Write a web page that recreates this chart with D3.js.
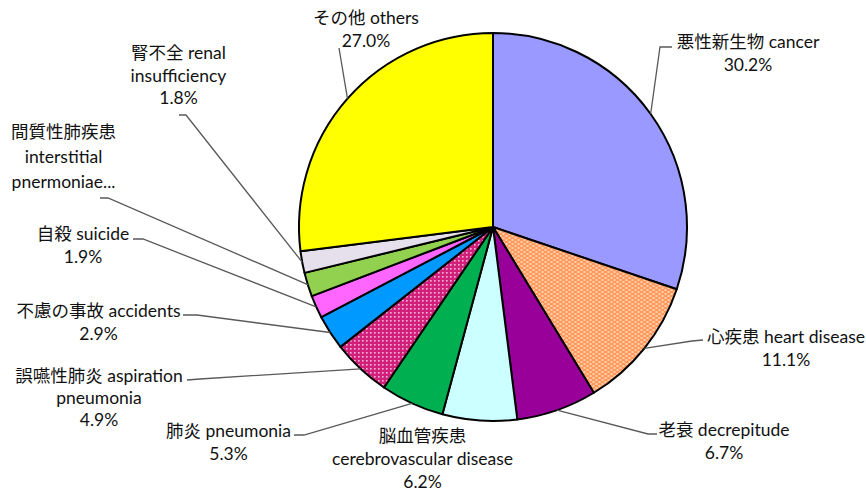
<!DOCTYPE html>
<html><head><meta charset="utf-8">
<script src="https://cdn.jsdelivr.net/npm/d3@7"></script>
<style>
body{margin:0;background:#fff;}
text{font-family:"Lato","Noto Sans CJK JP",sans-serif;font-size:17.5px;fill:#111;}
</style></head>
<body><svg id="c" width="866" height="493"></svg>
<script>
const categoriesJa = ["悪性新生物","心疾患","老衰","脳血管疾患","肺炎","誤嚥性肺炎","不慮の事故","自殺","間質性肺疾患","腎不全","その他"];
const categoriesEn = ["cancer","heart disease","decrepitude","cerebrovascular disease","pneumonia","aspiration pneumonia","accidents","suicide","interstitial pnermoniae","renal insufficiency","others"];
const values = [30.2,11.1,6.7,6.2,5.3,4.9,2.9,1.9,2.0,1.8,27.0];
const colors = ["#9999FF","url(#patHeart)","#990099","#CCFFFF","#00B050","url(#patAsp)","#0099FF","#FF66FF","#92D050","#E6E0EC","#FFFF00"];

const layout = [
  {lines:["悪性新生物 cancer","30.2%"], x:748, y:48, dy:22.5, lead:[[672,47],[660,47]]},
  {lines:["心疾患 heart disease","11.1%"], x:786, y:343, dy:22.5, lead:[[703,340],[692,341]]},
  {lines:["老衰 decrepitude","6.7%"], x:724, y:436, dy:22.5, lead:[[657,434],[648,434]]},
  {lines:["脳血管疾患","cerebrovascular disease","6.2%"], x:422.5, y:442, dy:23, lead:null},
  {lines:["肺炎 pneumonia","5.3%"], x:228.5, y:437, dy:22.5, lead:[[294,435],[304,435]]},
  {lines:["誤嚥性肺炎 aspiration","pneumonia","4.9%"], x:99, y:382, dy:22, lead:[[187,380],[200,379]]},
  {lines:["不慮の事故 accidents","2.9%"], x:98.5, y:317, dy:22.5, lead:[[183,315],[197,315]]},
  {lines:["自殺 suicide","1.9%"], x:83, y:240, dy:22.5, lead:[[133,239],[143,239]]},
  {lines:["間質性肺疾患","interstitial","pnermoniae..."], x:63.5, y:138, dy:25, lead:[[100,198],[108,198]]},
  {lines:["腎不全 renal","insufficiency","1.8%"], x:178.5, y:59, dy:22.5, lead:[[179,115],[186,115]]},
  {lines:["その他 others","27.0%"], x:366, y:24, dy:23, lead:[[339,48],[339,48]]}
];

const svg = d3.select("#c");
const defs = svg.append("defs");
const ph = defs.append("pattern").attr("id","patHeart").attr("patternUnits","userSpaceOnUse").attr("width",6).attr("height",4);
ph.append("rect").attr("width",6).attr("height",4).attr("fill","#FF9A5C");
ph.append("ellipse").attr("cx",1.5).attr("cy",1).attr("rx",1.4).attr("ry",0.7).attr("fill","#FFE3CC");
ph.append("ellipse").attr("cx",4.5).attr("cy",3).attr("rx",1.4).attr("ry",0.7).attr("fill","#FFE3CC");
const pa = defs.append("pattern").attr("id","patAsp").attr("patternUnits","userSpaceOnUse").attr("width",4).attr("height",4);
pa.append("rect").attr("width",4).attr("height",4).attr("fill","#D0207A");
pa.append("rect").attr("x",1).attr("y",1).attr("width",1.6).attr("height",1.6).attr("fill","#F5B8D8");

const cx = 493, cy = 227, R = 194;
const pie = d3.pie().sort(null).value(d=>d);
const arcs = pie(values);
const arc = d3.arc().innerRadius(0).outerRadius(R);
const g = svg.append("g").attr("transform",`translate(${cx},${cy})`);
g.selectAll("path").data(arcs).join("path")
  .attr("d",arc).attr("fill",(d,i)=>colors[i])
  .attr("stroke","#000").attr("stroke-width",2).attr("stroke-linejoin","round");

const lineGen = d3.line();
arcs.forEach((d,i)=>{
  const L = layout[i];
  if(!L.lead) return;
  const a = (d.startAngle+d.endAngle)/2;
  const px = cx + R*Math.sin(a), py = cy - R*Math.cos(a);
  const pts = [L.lead[0], L.lead[1], [px,py]];
  svg.append("path").attr("d",lineGen(pts)).attr("fill","none")
    .attr("stroke","#595959").attr("stroke-width",1.3);
});

layout.forEach((L,i)=>{
  const t = svg.append("text").attr("text-anchor","middle");
  L.lines.forEach((s,k)=>{
    t.append("tspan").attr("x",L.x).attr("y",L.y + k*L.dy).text(s);
  });
});
</script></body></html>
